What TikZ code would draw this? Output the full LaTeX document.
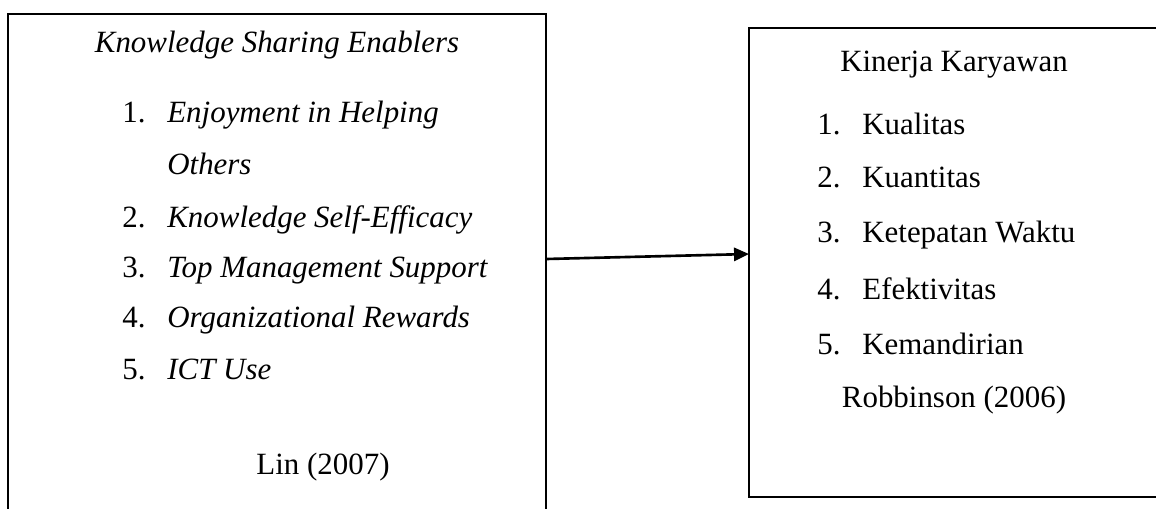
\documentclass[tikz,border=0pt]{standalone}
\usepackage{fontspec}
\setmainfont{Liberation Serif}
\usetikzlibrary{arrows.meta,calc}

\tikzset{
    box/.style={draw, line width=0.9pt},
    txt/.style={inner sep=0pt, anchor=base west, font=\fontsize{17.6}{21}\selectfont},
    ttl/.style={txt, anchor=base},
}

\begin{document}
\begin{tikzpicture}[x=0.02cm, y=-0.02cm]

\useasboundingbox (0,0) rectangle (1156,508);
\clip (0,0) rectangle (1156,508);

% left box (runs off the bottom)
\coordinate (ksnw) at (8,14);
\coordinate (ksne) at (546,14);
\draw[box] (8,560) -- (ksnw) -- (ksne) -- (546,560);

% right box (runs off the right side)
\coordinate (kknw) at (749,28);
\coordinate (kksw) at (749,497);
\draw[box] (1170,28) -- (kknw) -- (kksw) -- (1170,497);

\node[ttl, font=\fontsize{17.6}{21}\selectfont\itshape] (kstitle) at (277,52) {Knowledge Sharing Enablers};

\foreach \i/\t/\y in {
1/Enjoyment in Helping/122,
2/Knowledge Self-Efficacy/227,
3/Top Management Support/277,
4/Organizational Rewards/327,
5/ICT Use/379}
{
    \node[txt] (ksnum\i) at (122,\y) {\i.};
    \node[txt, font=\fontsize{17.6}{21}\selectfont\itshape] (ksitem\i) at (167,\y) {\t};
}
\node[txt, font=\fontsize{17.6}{21}\selectfont\itshape] (ksitem1b) at (167,174) {Others};

\node[ttl] (kssrc) at (323,474) {Lin (2007)};

\node[ttl] (kktitle) at (954,71) {Kinerja Karyawan};

\foreach \i/\t/\y in {
1/Kualitas/134,
2/Kuantitas/187,
3/Ketepatan Waktu/242,
4/Efektivitas/299,
5/Kemandirian/354}
{
    \node[txt] (kknum\i) at (817,\y) {\i.};
    \node[txt] (kkitem\i) at (862,\y) {\t};
}

\node[ttl] (kksrc) at (954,407) {Robbinson (2006)};

% arrow between the boxes
\coordinate (ksout) at (546,259);
\coordinate (kkin) at (749,254);
\draw[line width=1.5pt, -{Triangle[length=8.5pt, width=7.5pt]}] (ksout) -- (kkin);

\end{tikzpicture}
\end{document}
